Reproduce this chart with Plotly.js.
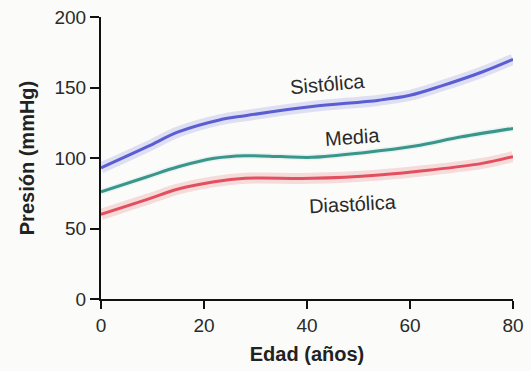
<!DOCTYPE html>
<html><head><meta charset="utf-8">
<script src="https://cdn.plot.ly/plotly-3.0.1.min.js"></script>
<style>html,body{margin:0;padding:0;background:#fbfbf9}</style>
</head><body><div id="chart" style="width:531px;height:371px"></div>
<script>
const sisX = [0, 9, 15, 23, 28, 41, 54, 60, 66, 74, 80];
const sisY = [93, 108, 118.5, 127, 130, 136.5, 141, 144.5, 151, 161, 170];
const medX = [0, 9, 15, 22, 28, 35, 41, 51, 61, 70, 80];
const medY = [76, 86.7, 93.8, 99.8, 101.6, 101, 100.5, 103.8, 108.5, 115, 121];
const diaX = [0, 9, 15, 22, 28, 41, 54, 64, 74, 80];
const diaY = [60, 70.7, 78, 83.2, 85.6, 85.6, 88, 91.5, 96.2, 101];
const labels = ['Sistólica', 'Media', 'Diastólica'];
const labelX = [44, 48.8, 48.9];
const labelY = [152.5, 114.9, 67.4];
const labelAngle = [-5, -4, -3];

const font = 'Liberation Sans, Arial, sans-serif';
function band(x, y, c, w) {
  return {x, y, mode: 'lines', line: {color: c, width: w, shape: 'spline', smoothing: 1}, hoverinfo: 'skip', showlegend: false};
}
const traces = [
  band(sisX, sisY, 'rgba(160,160,228,0.3)', 11),
  band(diaX, diaY, 'rgba(235,135,145,0.28)', 11),
  band(medX, medY, 'rgba(120,190,180,0.12)', 6),
  band(sisX, sisY, '#5a5ed2', 3),
  band(medX, medY, '#3a968c', 3),
  band(diaX, diaY, '#e2505f', 3)
];
const annotations = labels.map((t, i) => ({
  x: labelX[i], y: labelY[i], text: t, showarrow: false, textangle: labelAngle[i],
  font: {family: font, size: 20, color: '#2a2a2a'}
}));
Plotly.newPlot('chart', traces, {
  width: 531, height: 371,
  margin: {l: 101, r: 18, t: 17, b: 72},
  paper_bgcolor: '#fbfbf9', plot_bgcolor: '#fbfbf9',
  showlegend: false,
  xaxis: {range: [0, 80], tickvals: [0, 20, 40, 60, 80], ticks: 'outside', ticklen: 8, tickwidth: 2,
    tickcolor: '#111', showline: true, linecolor: '#111', linewidth: 2, showgrid: false, zeroline: false,
    tickfont: {family: font, size: 19, color: '#2a2a2a'},
    title: {text: 'Edad (años)', font: {family: font, size: 20, color: '#222', weight: 'bold'}, standoff: 12}},
  yaxis: {range: [0, 200], tickvals: [0, 50, 100, 150, 200], ticks: 'outside', ticklen: 9, tickwidth: 2,
    tickcolor: '#111', showline: true, linecolor: '#111', linewidth: 2, showgrid: false, zeroline: false,
    tickfont: {family: font, size: 19, color: '#2a2a2a'},
    title: {text: 'Presión (mmHg)', font: {family: font, size: 20, color: '#222', weight: 'bold'}, standoff: 14}},
  annotations
}, {displayModeBar: false, staticPlot: true});
</script></body></html>
